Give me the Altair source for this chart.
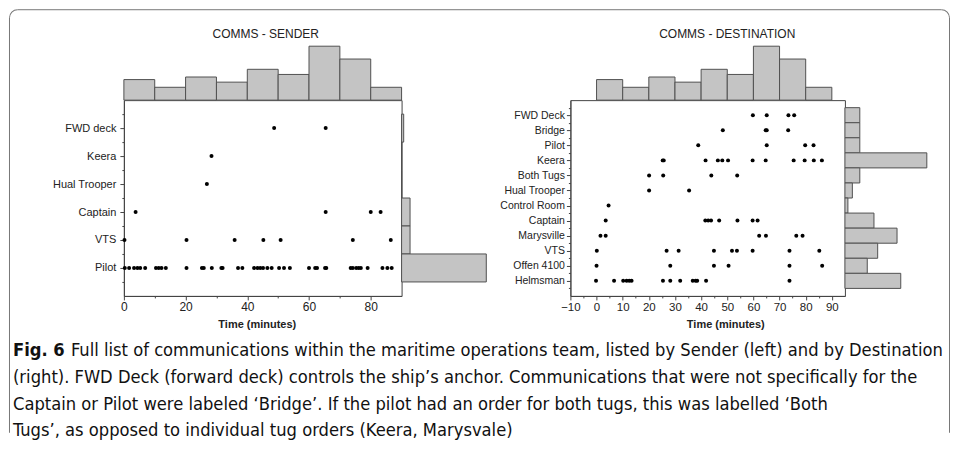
import math
import altair as alt
import pandas as pd

FONT = "Liberation Sans, Arial, sans-serif"
CAP_FONT = "DejaVu Sans Condensed, Liberation Sans Narrow, Arial Narrow, Roboto Condensed, sans-serif"

# ---------------- data ----------------
title_sender = "COMMS - SENDER"
title_dest = "COMMS - DESTINATION"
x_title = "Time (minutes)"

sender_cats = ["FWD deck", "Keera", "Hual Trooper", "Captain", "VTS", "Pilot"]
s_fwd = [48.7, 65.4]
s_keera = [28.4]
s_hual = [26.9]
s_captain = [3.8, 65.4, 80.0, 83.2]
s_vts = [0.2, 20.3, 35.9, 45.2, 50.8, 74.2, 86.5]
s_pilot = [0.3, 1.7, 3.3, 4.4, 5.3, 6.9, 10.4, 11.3, 12.2, 13.6, 20.3, 25.3, 25.9,
           28.5, 31.6, 32.0, 37.0, 38.4, 42.2, 43.3, 44.2, 45.1, 46.5, 47.9, 50.3,
           51.9, 53.8, 60.0, 62.0, 62.6, 65.2, 65.6, 73.5, 74.2, 75.3, 76.1, 76.8,
           79.0, 83.8, 85.4, 86.8]
sender_times = [s_fwd, s_keera, s_hual, s_captain, s_vts, s_pilot]
sender_marginal = [1, 0, 0, 4, 4, 40]

dest_cats = ["FWD Deck", "Bridge", "Pilot", "Keera", "Both Tugs", "Hual Trooper",
             "Control Room", "Captain", "Marysville", "VTS", "Offen 4100", "Helmsman"]
d_fwd = [59.8, 65.1, 73.4, 75.6]
d_bridge = [48.3, 64.7, 65.1, 73.3]
d_pilot = [38.9, 65.1, 79.8, 83.0]
d_keera = [25.3, 25.7, 41.7, 46.4, 48.1, 50.3, 59.7, 64.7, 75.4, 79.6, 83.1, 86.2]
d_both = [20.1, 25.5, 43.9, 53.8]
d_hual = [20.1, 35.4]
d_control = [4.6]
d_captain = [3.5, 41.6, 42.7, 43.8, 46.9, 53.9, 59.7, 61.6]
d_marys = [1.5, 3.5, 62.2, 64.8, 76.4, 78.8]
d_vts = [0.1, 26.8, 31.4, 44.9, 51.8, 53.7, 59.7, 73.8, 85.2]
d_offen = [0.0, 28.2, 44.9, 50.5, 73.8, 86.3]
d_helms = [-0.2, 6.7, 10.2, 11.5, 12.5, 13.4, 25.4, 28.2, 32.0, 36.8, 37.9, 38.5, 41.9, 73.8]
dest_times = [d_fwd, d_bridge, d_pilot, d_keera, d_both, d_hual, d_control,
              d_captain, d_marys, d_vts, d_offen, d_helms]
dest_marginal = [2, 2, 2, 11, 2, 1, 0.4, 3.9, 7, 4.4, 3, 7.5]

bin_starts = [0, 10, 20, 30, 40, 50, 60, 70, 80]
bin_counts = [8, 5, 9, 7, 12, 10, 21, 16, 5]

caption_fig = "Fig. 6"
caption_lines = [
    "Full list of communications within the maritime operations team, listed by Sender (left) and by Destination",
    "(right). FWD Deck (forward deck) controls the ship\u2019s anchor. Communications that were not specifically for the",
    "Captain or Pilot were labeled \u2018Bridge\u2019. If the pilot had an order for both tugs, this was labelled \u2018Both",
    "Tugs\u2019, as opposed to individual tug orders (Keera, Marysvale)",
]

# ---------------- styling ----------------
BAR_FILL = "#c4c4c4"
BAR_STROKE = "#505050"
AX = "#444444"
TXT = "#222222"


def text_layer(s, x, y, size, weight="normal", font=FONT, align="left",
               baseline="alphabetic", color=TXT):
    return alt.Chart(pd.DataFrame({"s": [s]})).mark_text(
        align=align, baseline=baseline, fontSize=size, fontWeight=weight,
        font=font, color=color
    ).encode(text="s:N", x=alt.value(x), y=alt.value(y))


def make_panel(cats, times, marg, marg_max, marg_len, xdom, xstep, lstep,
               width, height, ylab_size, xlab_size, ylab_pad, title, title_x,
               axis_title_x):
    n = len(cats)
    pts = pd.DataFrame([{"cat": c, "idx": i + 1, "t": t}
                        for i, (c, ts) in enumerate(zip(cats, times)) for t in ts])
    mg = pd.DataFrame({"cat": cats, "idx": list(range(1, n + 1)), "count": marg})
    hist = pd.DataFrame({"start": bin_starts, "count": bin_counts})

    names_js = "[''," + ",".join("'" + c + "'" for c in cats) + "]"
    yscale = alt.Scale(domain=[0, n + 1], reverse=True, nice=False, zero=False)
    xscale = alt.Scale(domain=xdom, nice=False, zero=False)

    xvals = list(range(int(math.ceil(xdom[0] / xstep) * xstep), int(xdom[1]) + 1, xstep))
    xvals = [v for v in xvals if v < xdom[1]]

    yaxis = alt.Axis(
        values=[k / 2 for k in range(1, 2 * n + 2)],
        labelExpr="datum.value % 1 ? '' : " + names_js + "[datum.value]",
        tickSize={"condition": {"test": "datum.value % 1 !== 0", "value": 2}, "value": 4},
        labelFontSize=ylab_size, labelFont=FONT, labelColor=TXT, labelPadding=ylab_pad,
        domainColor=AX, tickColor=AX, grid=False, title=None, labelOverlap=False,
    )
    xaxis = alt.Axis(
        values=xvals,
        labelExpr="datum.value % " + str(lstep) + " === 0 ? datum.label : ''",
        tickSize={"condition": {"test": "datum.value % " + str(lstep) + " !== 0", "value": 2}, "value": 4},
        labelFontSize=xlab_size, labelFont=FONT, labelColor=TXT, labelPadding=2,
        labelFlush=False, labelOverlap=False,
        domainColor=AX, tickColor=AX, grid=False,
        title=x_title, titleFontSize=11, titleFont=FONT, titleFontWeight="bold",
        titleColor=TXT, titleX=axis_title_x, titleY=29, titleAlign="center",
        titleBaseline="middle",
    )

    scatter = alt.Chart(pts).mark_circle(size=16, color="black", opacity=1).encode(
        x=alt.X("t:Q", scale=xscale, axis=xaxis),
        y=alt.Y("idx:Q", scale=yscale, axis=yaxis),
    )

    top = alt.Chart(hist).mark_rect(fill=BAR_FILL, stroke=BAR_STROKE, strokeWidth=1).transform_calculate(
        end="datum.start + 10"
    ).encode(
        x=alt.X("start:Q", scale=alt.Scale(domain=xdom, nice=False, zero=False), axis=None),
        x2="end:Q",
        y=alt.Y("count:Q", scale=alt.Scale(domain=[0, max(bin_counts)], range=[0, -54],
                                           nice=False, zero=False), axis=None),
        y2=alt.datum(0),
    )

    side = alt.Chart(mg).mark_rect(fill=BAR_FILL, stroke=BAR_STROKE, strokeWidth=1).transform_calculate(
        lo="datum.idx - 0.5", hi="datum.idx + 0.5"
    ).encode(
        x=alt.X("count:Q", scale=alt.Scale(domain=[0, marg_max], range=[width, width + marg_len],
                                           nice=False, zero=False), axis=None),
        x2=alt.datum(0),
        y=alt.Y("lo:Q", scale=alt.Scale(domain=[0, n + 1], reverse=True, nice=False, zero=False),
                axis=None),
        y2="hi:Q",
    )

    ttl = text_layer(title, title_x, -66, 12, baseline="middle", align="center")
    return [scatter, top, side, ttl]


# left panel: plot origin at page (123, 99)
left_layers = make_panel(sender_cats, sender_times, sender_marginal, 40, 84.8,
                         [0, 90], 10, 20, 278, 196, 11, 12, 4,
                         title_sender, 142, 133)
# right panel: plot origin at page (570, 99)
right_layers = make_panel(dest_cats, dest_times, dest_marginal, 11, 82,
                          [-10, 95], 5, 10, 274.8, 196, 10.5, 11.5, 2,
                          title_dest, 157, 155)

# caption (relative to left panel origin)
cap_x = -111
cap_y = [256, 283, 310, 336]
CAP_SIZE = 18.2
caption = [text_layer(caption_fig, cap_x, cap_y[0], CAP_SIZE, weight="bold", font=CAP_FONT, color="#111")]
for i, line in enumerate(caption_lines):
    x0 = cap_x + 58 if i == 0 else cap_x
    caption.append(text_layer(line, x0, cap_y[i], CAP_SIZE, font=CAP_FONT, color="#111"))

# figure border (relative to left panel origin)
L, T, R, B, r = -114.5, -90.5, 826.5, 333, 8
one = pd.DataFrame({"a": [0]})
BC = "#777777"
border = [
    alt.Chart(one).mark_rule(color=BC, strokeWidth=1).encode(
        x=alt.value(L), y=alt.value(T + r), y2=alt.value(B)),
    alt.Chart(one).mark_rule(color=BC, strokeWidth=1).encode(
        x=alt.value(R), y=alt.value(T + r), y2=alt.value(B)),
    alt.Chart(one).mark_rule(color=BC, strokeWidth=1).encode(
        x=alt.value(L + r), x2=alt.value(R - r), y=alt.value(T)),
    alt.Chart(one).mark_arc(theta=1.5 * math.pi, theta2=2 * math.pi, innerRadius=r - 0.5,
                            outerRadius=r + 0.5, color=BC).encode(
        x=alt.value(L + r), y=alt.value(T + r)),
    alt.Chart(one).mark_arc(theta=0, theta2=0.5 * math.pi, innerRadius=r - 0.5,
                            outerRadius=r + 0.5, color=BC).encode(
        x=alt.value(R - r), y=alt.value(T + r)),
]

left = alt.layer(*left_layers, *caption, *border).resolve_scale(
    x="independent", y="independent").properties(width=278, height=196)
right = alt.layer(*right_layers).resolve_scale(
    x="independent", y="independent").properties(width=274.8, height=196)

chart = alt.hconcat(left, right, spacing=169, bounds="flush").properties(
    padding=0, background="white"
).configure_view(stroke=AX, strokeWidth=1)

chart.save("out.html", embed_options={"renderer": "svg", "actions": False})
